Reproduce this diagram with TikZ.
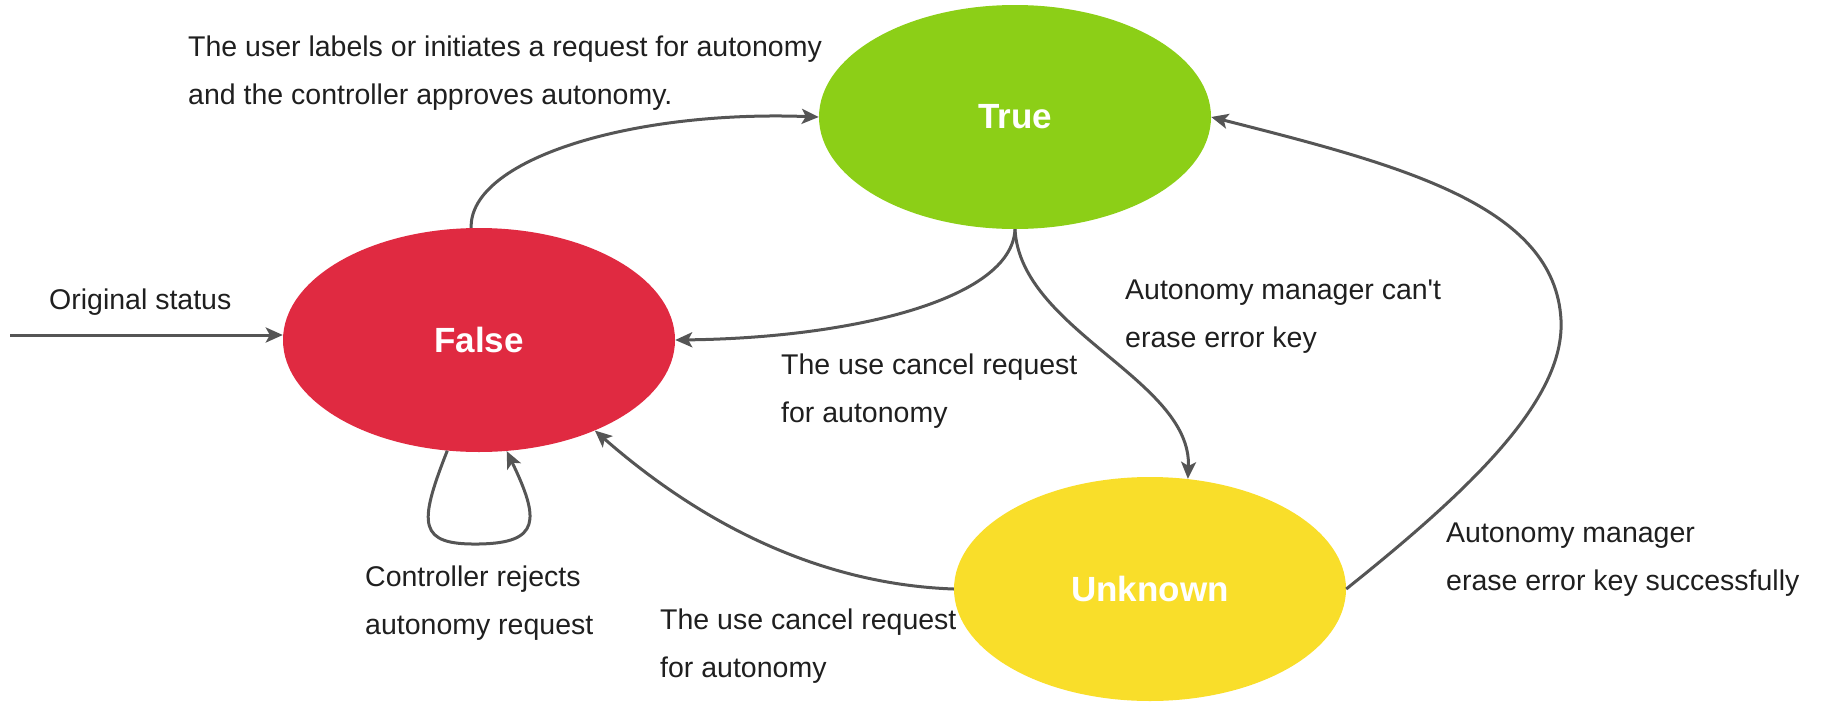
\documentclass[tikz,border=0pt]{standalone}
\usepackage{fontspec}
\setmainfont{Liberation Sans}[Ligatures=TeXOff]
\usetikzlibrary{shapes.geometric,arrows.meta}
\definecolor{cgreen}{HTML}{8CCF17}
\definecolor{cred}{HTML}{E02A41}
\definecolor{cyellow}{HTML}{F9DE2A}
\definecolor{cline}{HTML}{555555}
\definecolor{ctext}{HTML}{1F1F1F}
\tikzset{
  state/.style={ellipse, minimum width=392pt, minimum height=224pt, inner sep=0pt, text=white,
    font=\fontsize{35}{40}\selectfont\bfseries},
  lbl/.style={anchor=west, align=left, inner sep=0pt, text=ctext,
    font=\fontsize{28.5}{48}\selectfont},
  conn/.style={draw=cline, line width=3pt, -{Stealth[length=17pt,width=15pt,inset=4pt]}},
  plain/.style={draw=cline, line width=3pt}
}
\begin{document}
\begin{tikzpicture}[x=1pt,y=-1pt]
\useasboundingbox (0,0) rectangle (1825,704);
% states
\node[state, fill=cgreen] (T) at (1015,117) {True};
\node[state, fill=cred] (F) at (479,340) {False};
\node[state, fill=cyellow] (U) at (1150,589) {Unknown};
% labels
\node[lbl] (l1) at (188,73) {The user labels or initiates a request for autonomy\\and the controller approves autonomy.};
\node[lbl] (l2) at (49,302) {Original status};
\node[lbl] (l3) at (1125,317) {Autonomy manager can't\\erase error key};
\node[lbl] (l4) at (781,391) {The use cancel request\\for autonomy};
\node[lbl] (l5) at (365,603) {Controller rejects\\autonomy request};
\node[lbl] (l6) at (660,646) {The use cancel request\\for autonomy};
\node[lbl] (l7) at (1446,560) {Autonomy manager\\erase error key successfully};
% connectors
\coordinate (init) at (10,335);
\draw[conn] (init) -- (init -| F.west);
\draw[conn] (F.94) .. controls (469,160) and (630,110) .. (T.west);
\draw[conn] (T.south) .. controls (1012,300) and (850,338) .. (F.east);
\draw[conn] (T.south) .. controls (1020,330) and (1192,380) .. (U.71);
\draw[conn] (U.east) .. controls (1470,490) and (1565,400) .. (1561,320)
   .. controls (1555,205) and (1400,165) .. (T.east);
\draw[conn] (U.west) .. controls (840,585) and (720,540) .. (F.-38);
\draw[conn] (F.-106) .. controls (418,525) and (418,545) .. (479,544)
   .. controls (540,543) and (540,520) .. (F.-76);
\end{tikzpicture}
\end{document}
